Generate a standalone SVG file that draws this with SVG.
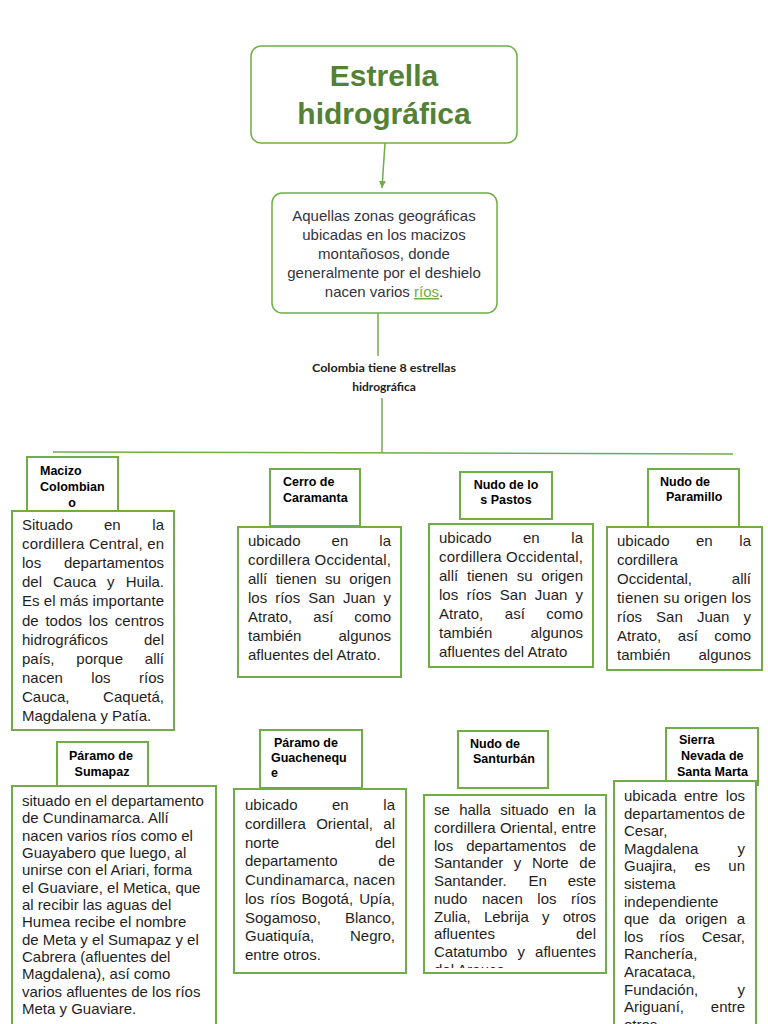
<svg xmlns="http://www.w3.org/2000/svg" width="768" height="1024" viewBox="0 0 768 1024">
<style>
.box{fill:#fff;stroke:#70ad47;stroke-width:2}
.rbox{fill:#fff;stroke:#70ad47;stroke-width:1.5}
.ln{stroke:#70ad47;stroke-width:1.5;fill:none}
.hd{font-family:"Liberation Sans",Arial,sans-serif;font-weight:bold;font-size:12.5px;fill:#000}
.tx{font-family:"Liberation Sans",Arial,sans-serif;font-size:15px;fill:#1e1e1e}
.e{text-anchor:end}
.ttl{font-family:"Liberation Sans",Arial,sans-serif;font-weight:bold;font-size:30px;fill:#538135;text-anchor:middle}
.def{font-family:"Liberation Sans",Arial,sans-serif;font-size:15px;fill:#333340;text-anchor:middle}
.lab{font-family:Lato,"Liberation Sans",sans-serif;font-weight:bold;font-size:12px;fill:#222;text-anchor:middle}
</style>
<defs>
<marker id="arr" markerWidth="8" markerHeight="8" refX="7" refY="4" orient="auto" markerUnits="userSpaceOnUse">
<path d="M0,0.5 L7,4 L0,7.5 Z" fill="#70ad47"/>
</marker>
<clipPath id="clip7"><rect x="424" y="795" width="182" height="173"/></clipPath>
</defs>

<g id="connectors">
<line class="ln" x1="385" y1="143" x2="382" y2="188" stroke-width="1" marker-end="url(#arr)"/>
<line class="ln" x1="378" y1="313" x2="378" y2="356" stroke-width="2"/>
<line class="ln" x1="382" y1="398" x2="382" y2="452"/>
<line class="ln" x1="53" y1="452" x2="733" y2="454"/>
</g>

<g id="title">
<rect class="rbox" x="251" y="46" width="266" height="97" rx="10"/>
<text class="ttl" x="384" y="86">Estrella</text>
<text class="ttl" x="384" y="124">hidrográfica</text>
</g>

<g id="definition">
<rect class="rbox" x="272" y="193" width="225" height="120" rx="10"/>
<text class="def" x="384" y="221">Aquellas zonas geográficas</text>
<text class="def" x="384" y="240">ubicadas en los macizos</text>
<text class="def" x="384" y="259">montañosos, donde</text>
<text class="def" x="384" y="278">generalmente por el deshielo</text>
<text class="def" x="384" y="297">nacen varios <tspan fill="#70ad47" text-decoration="underline">ríos</tspan>.</text>
</g>

<g id="label">
<text class="lab" x="384" y="372" textLength="144" lengthAdjust="spacingAndGlyphs">Colombia tiene 8 estrellas</text>
<text class="lab" x="384" y="391">hidrográfica</text>
</g>

<g id="macizo">
<rect class="box" x="27" y="457" width="91" height="56"/>
<text class="hd" x="40" y="475">Macizo</text>
<text class="hd" x="40" y="491">Colombian</text>
<text class="hd" x="72" y="507" text-anchor="middle">o</text>
<rect class="box" x="12" y="511" width="162" height="219"/>
<text class="tx" y="530"><tspan x="22">Situado</tspan><tspan x="104">en</tspan><tspan x="164" class="e">la</tspan></text>
<text class="tx" x="22" y="549.1" textLength="142" lengthAdjust="spacing">cordillera Central, en</text>
<text class="tx" y="568.2"><tspan x="22">los</tspan><tspan x="164" class="e">departamentos</tspan></text>
<text class="tx" y="587.3"><tspan x="22">del</tspan><tspan x="53">Cauca</tspan><tspan x="107">y</tspan><tspan x="164" class="e">Huila.</tspan></text>
<text class="tx" x="22" y="606.4" textLength="142" lengthAdjust="spacing">Es el más importante</text>
<text class="tx" y="625.5"><tspan x="22">de</tspan><tspan x="45.4">todos</tspan><tspan x="88.8">los</tspan><tspan x="164" class="e">centros</tspan></text>
<text class="tx" y="644.6"><tspan x="22">hidrográficos</tspan><tspan x="164" class="e">del</tspan></text>
<text class="tx" y="663.7"><tspan x="22">país,</tspan><tspan x="76.3">porque</tspan><tspan x="164" class="e">allí</tspan></text>
<text class="tx" y="682.8"><tspan x="22">nacen</tspan><tspan x="91.3">los</tspan><tspan x="164" class="e">ríos</tspan></text>
<text class="tx" y="701.9"><tspan x="22">Cauca,</tspan><tspan x="164" class="e">Caquetá,</tspan></text>
<text class="tx" x="22" y="721">Magdalena y Patía.</text>
</g>

<g id="caramanta">
<rect class="box" x="270" y="469" width="90" height="57"/>
<text class="hd" x="283" y="486">Cerro de</text>
<text class="hd" x="283" y="502">Caramanta</text>
<rect class="box" x="238" y="527" width="163" height="150"/>
<text class="tx" y="546"><tspan x="248">ubicado</tspan><tspan x="331.6">en</tspan><tspan x="391" class="e">la</tspan></text>
<text class="tx" x="248" y="565" textLength="143" lengthAdjust="spacing">cordillera Occidental,</text>
<text class="tx" y="584"><tspan x="248">allí</tspan><tspan x="275.7">tienen</tspan><tspan x="325.1">su</tspan><tspan x="391" class="e">origen</tspan></text>
<text class="tx" y="603"><tspan x="248">los</tspan><tspan x="275.2">ríos</tspan><tspan x="308.2">San</tspan><tspan x="342.9">Juan</tspan><tspan x="391" class="e">y</tspan></text>
<text class="tx" y="622"><tspan x="248">Atrato,</tspan><tspan x="313.3">así</tspan><tspan x="391" class="e">como</tspan></text>
<text class="tx" y="641"><tspan x="248">también</tspan><tspan x="391" class="e">algunos</tspan></text>
<text class="tx" x="248" y="660">afluentes del Atrato.</text>
</g>

<g id="pastos">
<rect class="box" x="460" y="472" width="92" height="47"/>
<text class="hd" x="506" y="489" text-anchor="middle">Nudo de lo</text>
<text class="hd" x="506" y="504" text-anchor="middle">s Pastos</text>
<rect class="box" x="429" y="524" width="164" height="143"/>
<text class="tx" y="543"><tspan x="439">ubicado</tspan><tspan x="523">en</tspan><tspan x="583" class="e">la</tspan></text>
<text class="tx" x="439" y="562" textLength="144" lengthAdjust="spacing">cordillera Occidental,</text>
<text class="tx" y="581"><tspan x="439">allí</tspan><tspan x="467">tienen</tspan><tspan x="516.7">su</tspan><tspan x="583" class="e">origen</tspan></text>
<text class="tx" y="600"><tspan x="439">los</tspan><tspan x="466.5">ríos</tspan><tspan x="499.8">San</tspan><tspan x="534.8">Juan</tspan><tspan x="583" class="e">y</tspan></text>
<text class="tx" y="619"><tspan x="439">Atrato,</tspan><tspan x="504.8">así</tspan><tspan x="583" class="e">como</tspan></text>
<text class="tx" y="638"><tspan x="439">también</tspan><tspan x="583" class="e">algunos</tspan></text>
<text class="tx" x="439" y="657">afluentes del Atrato</text>
</g>

<g id="paramillo">
<rect class="box" x="648" y="469" width="91" height="58"/>
<text class="hd" x="660" y="486">Nudo de</text>
<text class="hd" x="666" y="501">Paramillo</text>
<rect class="box" x="607" y="527" width="155" height="143"/>
<text class="tx" y="546"><tspan x="617">ubicado</tspan><tspan x="696">en</tspan><tspan x="751" class="e">la</tspan></text>
<text class="tx" x="617" y="565">cordillera</text>
<text class="tx" y="584"><tspan x="617">Occidental,</tspan><tspan x="751" class="e">allí</tspan></text>
<text class="tx" x="617" y="603" textLength="134" lengthAdjust="spacing">tienen su origen los</text>
<text class="tx" y="622"><tspan x="617">ríos</tspan><tspan x="656.1">San</tspan><tspan x="696.9">Juan</tspan><tspan x="751" class="e">y</tspan></text>
<text class="tx" y="641"><tspan x="617">Atrato,</tspan><tspan x="677.8">así</tspan><tspan x="751" class="e">como</tspan></text>
<text class="tx" y="660"><tspan x="617">también</tspan><tspan x="751" class="e">algunos</tspan></text>
</g>

<g id="sumapaz">
<rect class="box" x="57" y="742" width="91" height="45"/>
<text class="hd" x="101" y="760" text-anchor="middle">Páramo de</text>
<text class="hd" x="102" y="776" text-anchor="middle">Sumapaz</text>
<rect class="box" x="12" y="786" width="204" height="260"/>
<text class="tx" x="22" y="806">situado en el departamento</text>
<text class="tx" x="22" y="823.3">de Cundinamarca. Allí</text>
<text class="tx" x="22" y="840.7">nacen varios ríos como el</text>
<text class="tx" x="22" y="858">Guayabero que luego, al</text>
<text class="tx" x="22" y="875.3">unirse con el Ariari, forma</text>
<text class="tx" x="22" y="892.7">el Guaviare, el Metica, que</text>
<text class="tx" x="22" y="910">al recibir las aguas del</text>
<text class="tx" x="22" y="927.3">Humea recibe el nombre</text>
<text class="tx" x="22" y="944.7">de Meta y el Sumapaz y el</text>
<text class="tx" x="22" y="962">Cabrera (afluentes del</text>
<text class="tx" x="22" y="979.3">Magdalena), así como</text>
<text class="tx" x="22" y="996.7">varios afluentes de los ríos</text>
<text class="tx" x="22" y="1014">Meta y Guaviare.</text>
</g>

<g id="guacheneque">
<rect class="box" x="260" y="730" width="102" height="58"/>
<text class="hd" x="274" y="747">Páramo de</text>
<text class="hd" x="271" y="762">Guachenequ</text>
<text class="hd" x="271" y="777">e</text>
<rect class="box" x="234" y="789" width="172" height="184"/>
<text class="tx" y="810"><tspan x="245">ubicado</tspan><tspan x="332">en</tspan><tspan x="395" class="e">la</tspan></text>
<text class="tx" y="828.75"><tspan x="245">cordillera</tspan><tspan x="316.2">Oriental,</tspan><tspan x="395" class="e">al</tspan></text>
<text class="tx" y="847.5"><tspan x="245">norte</tspan><tspan x="395" class="e">del</tspan></text>
<text class="tx" y="866.25"><tspan x="245">departamento</tspan><tspan x="395" class="e">de</tspan></text>
<text class="tx" x="245" y="885" textLength="150" lengthAdjust="spacing">Cundinamarca, nacen</text>
<text class="tx" y="903.75"><tspan x="245">los</tspan><tspan x="270.3">ríos</tspan><tspan x="301.4">Bogotá,</tspan><tspan x="395" class="e">Upía,</tspan></text>
<text class="tx" y="922.5"><tspan x="245">Sogamoso,</tspan><tspan x="395" class="e">Blanco,</tspan></text>
<text class="tx" y="941.25"><tspan x="245">Guatiquía,</tspan><tspan x="395" class="e">Negro,</tspan></text>
<text class="tx" x="245" y="960">entre otros.</text>
</g>

<g id="santurban">
<rect class="box" x="458" y="731" width="90" height="57"/>
<text class="hd" x="470" y="748">Nudo de</text>
<text class="hd" x="473" y="763">Santurbán</text>
<rect class="box" x="424" y="795" width="182" height="178"/>
<g clip-path="url(#clip7)">
<text class="tx" y="815"><tspan x="434">se</tspan><tspan x="459.2">halla</tspan><tspan x="500.3">situado</tspan><tspan x="558.1">en</tspan><tspan x="596" class="e">la</tspan></text>
<text class="tx" x="434" y="832.75" textLength="162" lengthAdjust="spacing">cordillera Oriental, entre</text>
<text class="tx" y="850.5"><tspan x="434">los</tspan><tspan x="466.2">departamentos</tspan><tspan x="596" class="e">de</tspan></text>
<text class="tx" y="868.25"><tspan x="434">Santander</tspan><tspan x="513.8">y</tspan><tspan x="531.9">Norte</tspan><tspan x="596" class="e">de</tspan></text>
<text class="tx" y="886"><tspan x="434">Santander.</tspan><tspan x="528.4">En</tspan><tspan x="596" class="e">este</tspan></text>
<text class="tx" y="903.75"><tspan x="434">nudo</tspan><tspan x="481.9">nacen</tspan><tspan x="537.3">los</tspan><tspan x="596" class="e">ríos</tspan></text>
<text class="tx" y="921.5"><tspan x="434">Zulia,</tspan><tspan x="483.9">Lebrija</tspan><tspan x="542.1">y</tspan><tspan x="596" class="e">otros</tspan></text>
<text class="tx" y="939.25"><tspan x="434">afluentes</tspan><tspan x="596" class="e">del</tspan></text>
<text class="tx" y="957"><tspan x="434">Catatumbo</tspan><tspan x="517.5">y</tspan><tspan x="596" class="e">afluentes</tspan></text>
<text class="tx" x="434" y="974.75">del Arauca.</text>
</g>
</g>

<g id="sierra">
<rect class="box" x="666" y="728" width="92" height="57"/>
<text class="hd" x="679" y="744">Sierra</text>
<text class="hd" x="681" y="760">Nevada de</text>
<text class="hd" x="677" y="776">Santa Marta</text>
<rect class="box" x="614" y="781" width="142" height="260"/>
<text class="tx" y="801"><tspan x="624">ubicada</tspan><tspan x="684">entre</tspan><tspan x="745" class="e">los</tspan></text>
<text class="tx" x="624" y="818.6" textLength="121" lengthAdjust="spacing">departamentos de</text>
<text class="tx" x="624" y="836.2">Cesar,</text>
<text class="tx" y="853.8"><tspan x="624">Magdalena</tspan><tspan x="745" class="e">y</tspan></text>
<text class="tx" y="871.4"><tspan x="624">Guajira,</tspan><tspan x="694.5">es</tspan><tspan x="745" class="e">un</tspan></text>
<text class="tx" x="624" y="889">sistema</text>
<text class="tx" x="624" y="906.6">independiente</text>
<text class="tx" y="924.2"><tspan x="624">que</tspan><tspan x="658.8">da</tspan><tspan x="685.3">origen</tspan><tspan x="745" class="e">a</tspan></text>
<text class="tx" y="941.8"><tspan x="624">los</tspan><tspan x="659.5">ríos</tspan><tspan x="745" class="e">Cesar,</tspan></text>
<text class="tx" x="624" y="959.4">Ranchería,</text>
<text class="tx" x="624" y="977">Aracataca,</text>
<text class="tx" y="994.6"><tspan x="624">Fundación,</tspan><tspan x="745" class="e">y</tspan></text>
<text class="tx" y="1012.2"><tspan x="624">Ariguaní,</tspan><tspan x="745" class="e">entre</tspan></text>
<text class="tx" x="624" y="1029.8">otros.</text>
</g>
</svg>
